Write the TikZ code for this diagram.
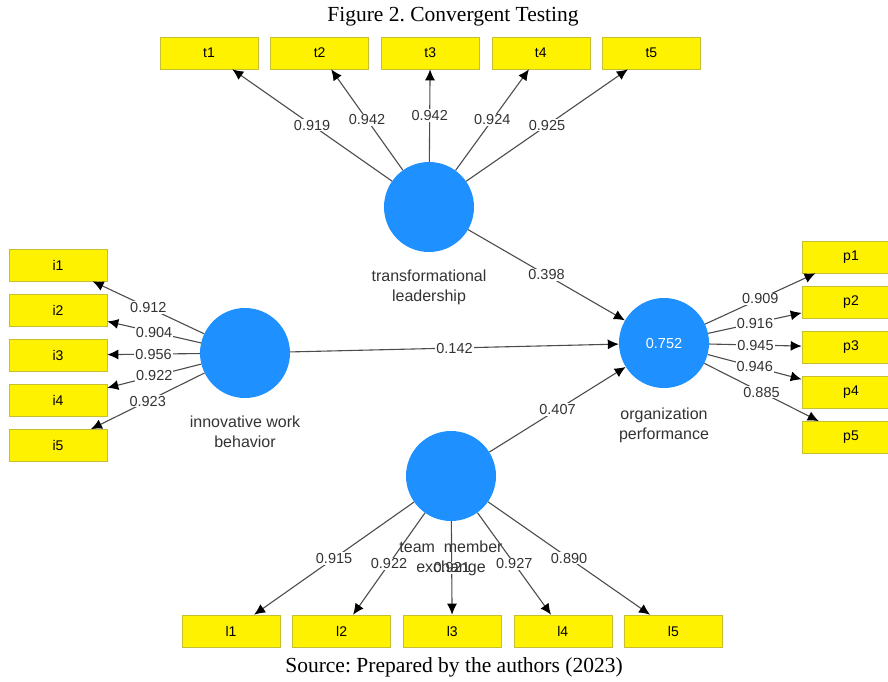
\documentclass[tikz,border=0pt]{standalone}
\usepackage{fontspec}
\setmainfont{Liberation Serif}
\newfontfamily\plsfont{Liberation Sans}
\usepackage{tikz}
\usetikzlibrary{arrows.meta,positioning}
\frenchspacing

\definecolor{lvblue}{RGB}{30,144,255}

\begin{document}
\begin{tikzpicture}[>={Latex[length=11pt,width=10pt,black]}, x=1pt, y=-1pt, node distance=12.5pt,
  ind/.style={rectangle, draw=yellow!75!black, line width=0.6pt, fill=yellow,
    minimum width=98pt, minimum height=32pt, inner sep=0pt,
    font=\plsfont\fontsize{14}{16}\selectfont},
  lv/.style={circle, fill=lvblue, minimum size=90pt, inner sep=0pt,
    text=white, font=\plsfont\fontsize{14.5}{16}\selectfont},
  lvname/.style={align=center, inner sep=0pt, text=black!80,
    font=\plsfont\fontsize{16}{20}\selectfont},
  w/.style={fill=white, inner sep=1pt, text=black!80,
    font=\plsfont\fontsize{14.5}{16}\selectfont},
  figtext/.style={font=\fontsize{21.5}{26}\selectfont}]
  \clip (0,0) rectangle (888,681);

  \node[figtext] (title) at (453,17) {Figure 2. Convergent Testing};
  \node[figtext] (source) at (454,667) {Source: Prepared by the authors (2023)};

  % latent variables
  \node[lv] (tl) at (429,207) {};
  \node[lv] (iwb) at (245,353) {};
  \node[lv] (op) at (664,343) {0.752};
  \node[lv] (tmx) at (451,476) {};

  % indicators
  \node[ind] (t1) at (209,53) {t1};
  \node[ind] (t2) [right=12pt of t1] {t2};
  \node[ind] (t3) [right=12pt of t2] {t3};
  \node[ind] (t4) [right=12pt of t3] {t4};
  \node[ind] (t5) [right=12pt of t4] {t5};

  \node[ind] (i1) at (58,265) {i1};
  \node[ind] (i2) [below=of i1] {i2};
  \node[ind] (i3) [below=of i2] {i3};
  \node[ind] (i4) [below=of i3] {i4};
  \node[ind] (i5) [below=of i4] {i5};

  \node[ind] (p1) at (851,257) {p1};
  \node[ind] (p2) [below=of p1] {p2};
  \node[ind] (p3) [below=of p2] {p3};
  \node[ind] (p4) [below=of p3] {p4};
  \node[ind] (p5) [below=of p4] {p5};

  \node[ind] (l1) at (231,631) {l1};
  \node[ind] (l2) [right=12pt of l1] {l2};
  \node[ind] (l3) [right=12pt of l2] {l3};
  \node[ind] (l4) [right=12pt of l3] {l4};
  \node[ind] (l5) [right=12pt of l4] {l5};

  \path[->, draw=black!70, line width=1.1pt]
  (tl) edge node[w] {0.919} (t1)
       edge node[w] {0.942} (t2)
       edge node[w] {0.942} (t3)
       edge node[w] {0.924} (t4)
       edge node[w] {0.925} (t5)
       edge node[w] {0.398} (op)
  (iwb) edge node[w] {0.912} (i1)
        edge node[w] {0.904} (i2)
        edge node[w] {0.956} (i3)
        edge node[w] {0.922} (i4)
        edge node[w] {0.923} (i5)
        edge node[w] {0.142} (op)
  (op) edge node[w] {0.909} (p1)
       edge node[w] {0.916} (p2)
       edge node[w] {0.945} (p3)
       edge node[w] {0.946} (p4)
       edge node[w] {0.885} (p5)
  (tmx) edge node[w] {0.407} (op)
        edge node[w] {0.915} (l1)
        edge node[w] {0.922} (l2)
        edge node[w] {0.921} (l3)
        edge node[w] {0.927} (l4)
        edge node[w] {0.890} (l5);

  % construct names
  \node[lvname] (tlname) [below=17pt of tl] {transformational\\leadership};
  \node[lvname] (iwbname) [below=17pt of iwb] {innovative work\\behavior};
  \node[lvname] (opname) [below=19pt of op] {organization\\performance};
  \node[lvname] (tmxname) [below=19pt of tmx] {team\ \ member\\exchange};
\end{tikzpicture}
\end{document}
